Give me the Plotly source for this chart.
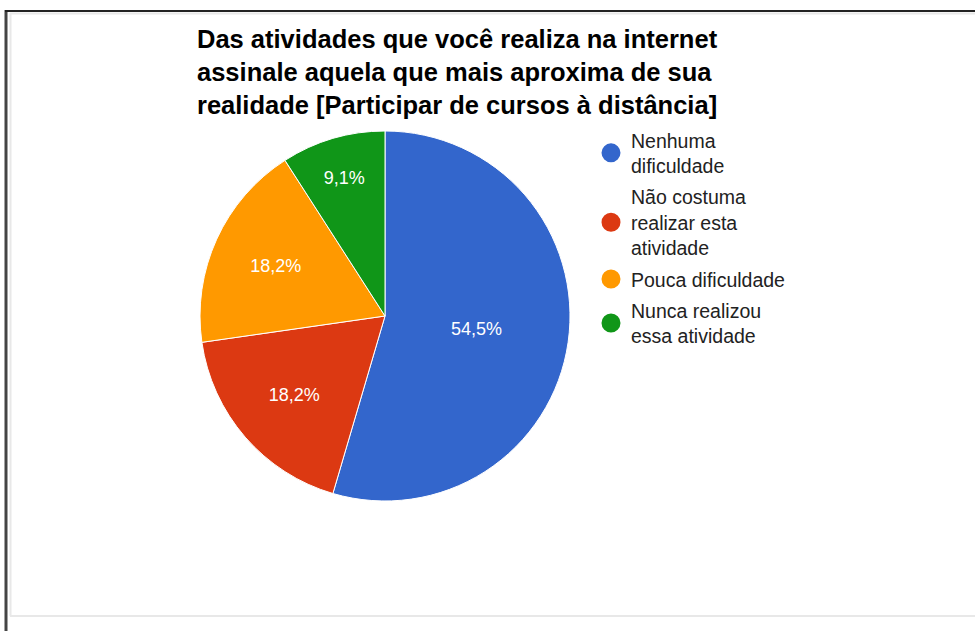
import plotly.graph_objects as go

W, H = 975, 631

categories = ["Nenhuma<br>dificuldade", "Não costuma<br>realizar esta<br>atividade",
              "Pouca dificuldade", "Nunca realizou<br>essa atividade"]
values = [6, 2, 2, 1]
colors = ["#3366CC", "#DC3912", "#FF9900", "#109618"]
title_lines = ["Das atividades que você realiza na internet",
               "assinale aquela que mais aproxima de sua",
               "realidade [Participar de cursos à distância]"]

def px(x):
    return x / W

def py(y):
    return 1 - y / H

fig = go.Figure()
fig.add_trace(go.Pie(
    labels=categories, values=values, sort=False, direction="clockwise", rotation=0,
    marker=dict(colors=colors, line=dict(color="white", width=1)),
    texttemplate="%{percent:.1%}", textposition="inside", insidetextorientation="horizontal",
    textfont=dict(family="Liberation Sans, Arial", size=18, color="white"),
    showlegend=False, hoverinfo="label+percent",
    domain=dict(x=[px(200), px(570)], y=[py(501), py(131)]),
))
for i, (c, col) in enumerate(zip(categories, colors)):
    fig.add_trace(go.Scatter(
        x=[None], y=[None], mode="markers", name=c, legendgroup=str(i),
        marker=dict(symbol="circle", size=16, color=col, line=dict(color=col, width=3)),
    ))

fig.update_layout(
    width=W, height=H, margin=dict(l=0, r=0, t=0, b=0),
    paper_bgcolor="white", plot_bgcolor="white",
    separators=",.",
    xaxis=dict(visible=False, domain=[0.9, 1]), yaxis=dict(visible=False, domain=[0.9, 1]),
    title=dict(text="<br>".join(title_lines), x=px(197), xanchor="left", xref="paper",
               y=py(48), yanchor="top", yref="paper",
               font=dict(family="Liberation Sans, Arial", size=25.5, color="#000000", weight="bold")),
    legend=dict(x=px(591), y=py(121), xanchor="left", yanchor="top",
                font=dict(family="Liberation Sans, Arial", size=19.5, color="#222222"),
                tracegroupgap=3, bgcolor="rgba(0,0,0,0)"),
    shapes=[
        dict(type="line", xref="paper", yref="paper", x0=px(6), x1=px(6), y0=py(10), y1=0,
             line=dict(color="#444444", width=3)),
        dict(type="line", xref="paper", yref="paper", x0=px(5), x1=1, y0=py(11), y1=py(11),
             line=dict(color="#222222", width=2)),
        dict(type="line", xref="paper", yref="paper", x0=px(10.5), x1=px(10.5), y0=py(13), y1=py(616),
             line=dict(color="#e8e8e8", width=2)),
        dict(type="line", xref="paper", yref="paper", x0=px(10), x1=1, y0=py(13.5), y1=py(13.5),
             line=dict(color="#e8e8e8", width=2)),
        dict(type="line", xref="paper", yref="paper", x0=px(10), x1=1, y0=py(616), y1=py(616),
             line=dict(color="#e8e8e8", width=2)),
    ],
)

fig.write_html("out.html", config={"displayModeBar": False},
               post_script="document.body.style.margin='0';document.body.style.overflow='hidden';")
